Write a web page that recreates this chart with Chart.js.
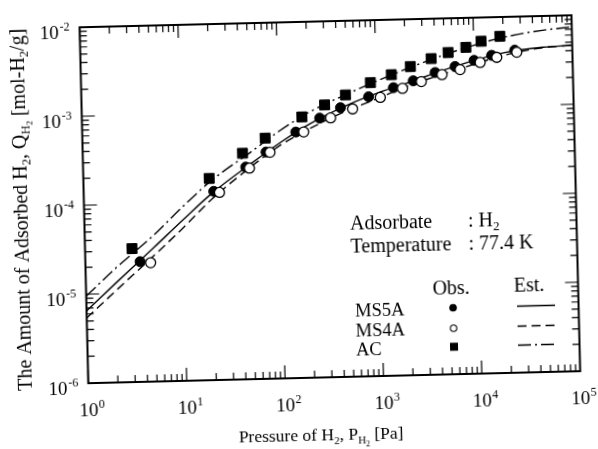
<!DOCTYPE html>
<html>
<head>
<meta charset="utf-8">
<script src="https://cdn.jsdelivr.net/npm/chart.js@4.4.0/dist/chart.umd.min.js"></script>
<style>
  html, body { margin: 0; padding: 0; background: #fff; overflow: hidden; }
  /* the scanned figure is slightly tilted */
  #wrap { width: 598px; height: 449px; transform: rotate(-1.4deg); }
</style>
</head>
<body>
<div id="wrap"><canvas id="chart" width="598" height="449"></canvas></div>
<script>
// observed points : pressure [Pa] / amount adsorbed [mol-H2/g]
const ms5aP = [3.6, 21, 45, 73, 148, 261, 427, 830, 1490, 2380, 3990, 6380, 9990, 15100, 26000];
const ms5aQ = [2.24e-5, 1.32e-4, 2.42e-4, 3.53e-4, 5.8e-4, 8.2e-4, 1.06e-3, 1.38e-3, 1.72e-3, 2.03e-3, 2.48e-3, 2.86e-3, 3.31e-3, 3.73e-3, 4.2e-3];
const ms4aP = [4.6, 24, 49, 80, 178, 337, 567, 1090, 1840, 2870, 4680, 7160, 11500, 17000, 27200];
const ms4aQ = [2.17e-5, 1.28e-4, 2.35e-4, 3.5e-4, 5.8e-4, 8.2e-4, 1.02e-3, 1.35e-3, 1.68e-3, 1.98e-3, 2.34e-3, 2.63e-3, 3.13e-3, 3.53e-3, 3.98e-3];
const acP = [3.0, 19, 42, 72, 172, 295, 484, 873, 1430, 2240, 3660, 5460, 8300, 11900, 18500];
const acQ = [3.16e-5, 1.85e-4, 3.47e-4, 5.06e-4, 8.55e-4, 1.15e-3, 1.47e-3, 1.99e-3, 2.41e-3, 2.94e-3, 3.56e-3, 4.13e-3, 4.66e-3, 5.4e-3, 6.08e-3];

// estimated curves
const estP = [1, 2, 5, 10, 20, 50, 100, 200, 500, 1000, 2000, 5000, 10000, 20000, 50000, 100000];
const ms5aEst = [6.5e-6, 1.3e-5, 3.2e-5, 6.4e-5, 1.25e-4, 2.6e-4, 4.4e-4, 7.0e-4, 1.13e-3, 1.5e-3, 1.9e-3, 2.65e-3, 3.3e-3, 3.95e-3, 4.45e-3, 4.6e-3];
const ms4aEst = [5.4e-6, 1.07e-5, 2.6e-5, 5.2e-5, 1.08e-4, 2.4e-4, 4.1e-4, 6.2e-4, 9.8e-4, 1.3e-3, 1.75e-3, 2.4e-3, 3.0e-3, 3.7e-3, 4.4e-3, 4.6e-3];
const acEst = [9.5e-6, 1.9e-5, 4.4e-5, 9.0e-5, 1.75e-4, 3.5e-4, 6.0e-4, 9.5e-4, 1.5e-3, 2.05e-3, 2.75e-3, 3.9e-3, 4.9e-3, 5.9e-3, 6.9e-3, 7.4e-3];

// decade exponents of the axes
const xExp = [0, 1, 2, 3, 4, 5];
const yExp = [-6, -5, -4, -3, -2];

const serif = '"Liberation Serif", "Times New Roman", serif';

const pts = (xs, ys) => xs.map((v, i) => ({ x: v, y: ys[i] }));

// text made of pieces : [text, size, shift down]
function drawRich(ctx, parts, x, y, align) {
	let w = 0;
	parts.forEach(p => { ctx.font = p[1] + 'px ' + serif; w += ctx.measureText(p[0]).width; });
	let cx = align === 'center' ? x - w / 2 : x;
	parts.forEach(p => {
		ctx.font = p[1] + 'px ' + serif;
		ctx.fillText(p[0], cx, y + (p[2] || 0));
		cx += ctx.measureText(p[0]).width;
	});
}

const decor = {
	id: 'decor',
	afterDraw(chart) {
		const { ctx, chartArea: a, scales: { x, y } } = chart;
		ctx.save();
		ctx.strokeStyle = '#000';
		ctx.fillStyle = '#000';

		// frame
		ctx.lineWidth = 2;
		ctx.strokeRect(a.left, a.top, a.right - a.left, a.bottom - a.top);

		// inward ticks on the four sides
		ctx.lineWidth = 1.2;
		ctx.beginPath();
		xExp.slice(0, -1).forEach(e => {
			for (let m = 1; m < 10; m++) {
				const px = x.getPixelForValue(m * Math.pow(10, e));
				const len = m === 1 ? 13 : 7;
				ctx.moveTo(px, a.bottom); ctx.lineTo(px, a.bottom - len);
				ctx.moveTo(px, a.top); ctx.lineTo(px, a.top + len);
			}
		});
		yExp.slice(0, -1).forEach(e => {
			for (let m = 1; m < 10; m++) {
				const py = y.getPixelForValue(m * Math.pow(10, e));
				const len = m === 1 ? 13 : 7;
				ctx.moveTo(a.left, py); ctx.lineTo(a.left + len, py);
				ctx.moveTo(a.right, py); ctx.lineTo(a.right - len, py);
			}
		});
		ctx.stroke();

		// tick labels
		ctx.textAlign = 'left';
		ctx.textBaseline = 'alphabetic';
		xExp.forEach(e => {
			const px = x.getPixelForValue(Math.pow(10, e));
			ctx.font = '19px ' + serif;
			const w = ctx.measureText('10').width;
			ctx.fillText('10', px - w / 2, a.bottom + 33);
			ctx.font = '12px ' + serif;
			ctx.fillText(String(e), px + w / 2 + 0.5, a.bottom + 25);
		});
		yExp.forEach(e => {
			const py = y.getPixelForValue(Math.pow(10, e));
			ctx.font = '12px ' + serif;
			const ew = ctx.measureText(String(e)).width;
			ctx.fillText(String(e), a.left - 10 - ew, py + 3);
			ctx.font = '19px ' + serif;
			const w = ctx.measureText('10').width;
			ctx.fillText('10', a.left - 11 - ew - w, py + 11);
		});

		// axis titles
		drawRich(ctx, [['Pressure of H', 17.5], ['2', 11, 4], [', P', 17.5], ['H', 11, 4], ['2', 8, 7], [' [Pa]', 17.5]], 316, 441, 'center');
		ctx.save();
		ctx.translate(20.5, 203);
		ctx.rotate(-Math.PI / 2);
		drawRich(ctx, [['The Amount of Adsorbed H', 20], ['2', 12.5, 4], [', Q', 20], ['H', 12.5, 4], ['2', 9, 7],
			[' [mol-H', 20], ['2', 12.5, 4], ['/g]', 20]], 0, 7, 'center');
		ctx.restore();

		// conditions
		drawRich(ctx, [['Adsorbate', 20]], 350, 231);
		drawRich(ctx, [[': H', 20], ['2', 13, 4]], 468, 231);
		drawRich(ctx, [['Temperature', 20]], 350, 254);
		drawRich(ctx, [[': 77.4 K', 20]], 468, 254);

		// legend
		drawRich(ctx, [['Obs.', 20]], 449.5, 298, 'center');
		drawRich(ctx, [['Est.', 20]], 527.5, 297, 'center');
		const rows = [['MS5A', 311.5, []], ['MS4A', 331.5, [9, 5]], ['AC', 350.5, [13, 4, 2, 4]]];
		rows.forEach(r => drawRich(ctx, [[r[0], 18.5]], 353, r[1] + 6.5));
		ctx.beginPath();
		ctx.arc(451, 311.5, 3.8, 0, Math.PI * 2);
		ctx.fill();
		ctx.beginPath();
		ctx.lineWidth = 1.1;
		ctx.arc(451, 332, 3.2, 0, Math.PI * 2);
		ctx.stroke();
		ctx.fillRect(447, 346.5, 8, 8);
		ctx.lineWidth = 1.4;
		rows.forEach(r => {
			ctx.setLineDash(r[2]);
			ctx.beginPath();
			ctx.moveTo(515, r[1]);
			ctx.lineTo(553, r[1]);
			ctx.stroke();
		});
		ctx.restore();
	}
};

const lineSet = (data, dash) => ({
	data: data,
	showLine: true,
	borderColor: '#000',
	borderWidth: 1.4,
	borderDash: dash,
	pointRadius: 0,
	cubicInterpolationMode: 'monotone',
	order: 10
});

new Chart(document.getElementById('chart'), {
	type: 'scatter',
	data: {
		datasets: [
			{ data: pts(ms4aP, ms4aQ), pointStyle: 'circle', pointRadius: 5, backgroundColor: '#fff', borderColor: '#000', borderWidth: 1.3, order: 1 },
			{ data: pts(ms5aP, ms5aQ), pointStyle: 'circle', pointRadius: 5, backgroundColor: '#000', borderColor: '#000', order: 2 },
			{ data: pts(acP, acQ), pointStyle: 'rect', pointRadius: 7, backgroundColor: '#000', borderColor: '#000', order: 3 },
			lineSet(pts(estP, ms5aEst), []),
			lineSet(pts(estP, ms4aEst), [9, 5]),
			lineSet(pts(estP, acEst), [13, 4, 2, 4])
		]
	},
	options: {
		responsive: false,
		animation: false,
		events: [],
		layout: { autoPadding: false, padding: { left: 84.5, right: 21.5, top: 22, bottom: 71 } },
		plugins: { legend: { display: false }, tooltip: { enabled: false } },
		scales: {
			x: {
				type: 'logarithmic', min: 1, max: 1e5,
				grid: { display: false, drawTicks: false },
				border: { display: false },
				ticks: { display: false },
				afterFit: s => { s.height = 0; }
			},
			y: {
				type: 'logarithmic', min: 1e-6, max: 1e-2,
				grid: { display: false, drawTicks: false },
				border: { display: false },
				ticks: { display: false },
				afterFit: s => { s.width = 0; }
			}
		}
	},
	plugins: [decor]
});
</script>
</body>
</html>
